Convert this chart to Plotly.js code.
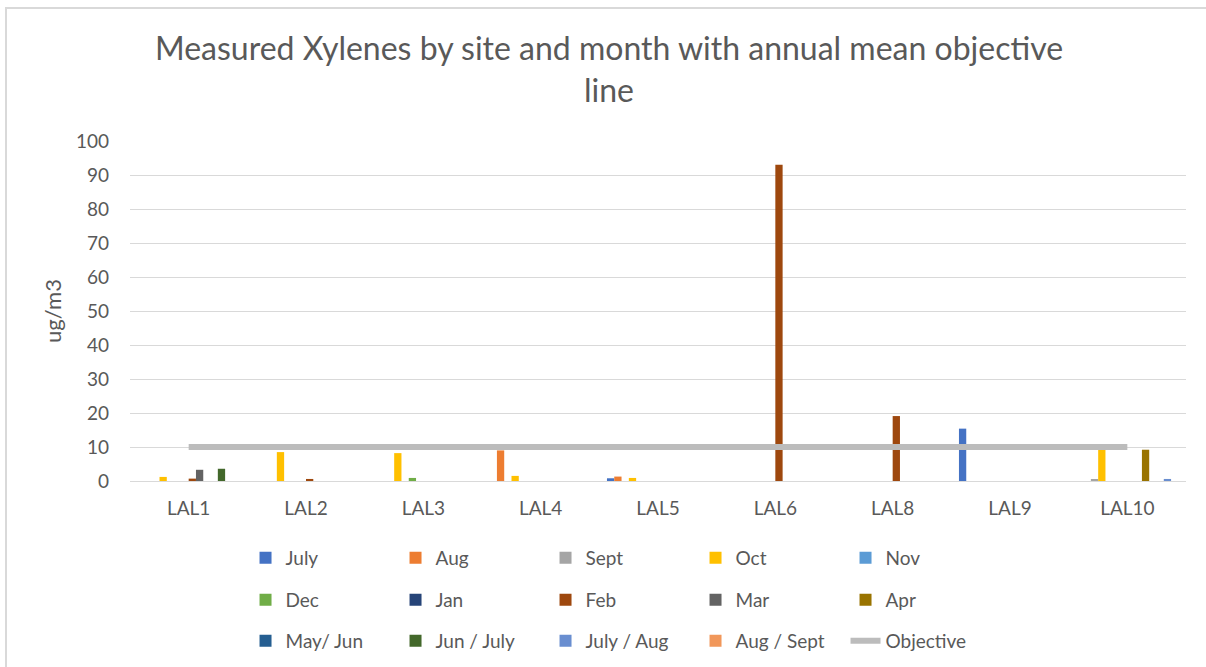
<!DOCTYPE html>
<html>
<head>
<meta charset="utf-8">
<script src="https://cdn.plot.ly/plotly-3.0.1.min.js"></script>
<style>
html,body{margin:0;padding:0;background:#fff;}
#frame{position:absolute;left:5px;top:7px;width:1201px;height:660px;border-top:2px solid #d9d9d9;border-left:2px solid #d9d9d9;box-sizing:border-box;pointer-events:none;z-index:10;}
#chart{width:1206px;height:667px;}
</style>
</head>
<body>
<div id="frame"></div>
<div id="chart"></div>
<script>
const categories = ['LAL1','LAL2','LAL3','LAL4','LAL5','LAL6','LAL8','LAL9','LAL10'];
const july     = [0,   0,   0,   0,   0.8, 0,  0,    15.4, 0];
const aug      = [0,   0,   0,   9.0, 1.3, 0,  0,    0,    0];
const sept     = [0,   0,   0,   0,   0,   0,  0,    0,    0.5];
const oct      = [1.2, 8.5, 8.2, 1.5, 0.9, 0,  0,    0,    9.4];
const nov      = [0,   0,   0,   0,   0,   0,  0,    0,    0];
const dec      = [0,   0,   0.9, 0,   0,   0,  0,    0,    0];
const jan      = [0,   0,   0,   0,   0,   0,  0,    0,    0];
const feb      = [0.7, 0.6, 0,   0,   0,   93, 19.1, 0,    0];
const mar      = [3.3, 0,   0,   0,   0,   0,  0,    0,    0];
const apr      = [0,   0,   0,   0,   0,   0,  0,    0,    9.2];
const mayJun   = [0,   0,   0,   0,   0,   0,  0,    0,    0];
const junJuly  = [3.6, 0,   0,   0,   0,   0,  0,    0,    0];
const julyAug  = [0,   0,   0,   0,   0,   0,  0,    0,    0.6];
const augSept  = [0,   0,   0,   0,   0,   0,  0,    0,    0];
const objective = [10, 10, 10, 10, 10, 10, 10, 10, 10];

const seriesNames = ['July','Aug','Sept','Oct','Nov','Dec','Jan','Feb','Mar','Apr','May/ Jun','Jun / July','July / Aug','Aug / Sept'];
const seriesValues = [july,aug,sept,oct,nov,dec,jan,feb,mar,apr,mayJun,junJuly,julyAug,augSept];
const seriesColors = ['#4472C4','#ED7D31','#A5A5A5','#FFC000','#5B9BD5','#70AD47','#264478','#9E480E','#636363','#997300','#255E91','#43682B','#698ED0','#F1975A'];
const legendIds = ['legend','legend','legend','legend','legend','legend2','legend2','legend2','legend2','legend2','legend3','legend3','legend3','legend3'];

const traces = seriesNames.map((n,i)=>({
  type:'bar', name:n, x:categories, y:seriesValues[i],
  marker:{color:seriesColors[i], line:{width:0}},
  legend:legendIds[i], hoverinfo:'x+y+name'
}));
traces.push({
  type:'scatter', mode:'lines', name:'Objective', x:categories, y:objective,
  line:{color:'#BCBCBC', width:6}, legend:'legend3'
});

const font = {family:'Lato, "Open Sans", sans-serif', color:'#595959'};
const legBase = (y)=>({
  orientation:'h', x:0.1094, xanchor:'left', y:y, yanchor:'middle', yref:'container',
  entrywidth:105, entrywidthmode:'pixels', itemwidth:30,
  font:{family:font.family, color:'#595959', size:19},
  bgcolor:'rgba(0,0,0,0)', traceorder:'normal'
});

const layout = {
  width:1206, height:667,
  margin:{l:130, r:20, t:141, b:186},
  paper_bgcolor:'#fff', plot_bgcolor:'#fff',
  font:font,
  title:{text:'Measured Xylenes by site and month with annual mean objective<br>line',
    x:0.505, xref:'container', xanchor:'center', y:0.91, yref:'container', yanchor:'top',
    font:{family:font.family, size:32, color:'#595959'}},
  barmode:'group', bargap:0.13, bargroupgap:0,
  xaxis:{type:'category', showgrid:false, showline:false, zeroline:false, ticks:'',
    tickfont:{size:19, color:'#595959'}, ticklabelstandoff:14},
  yaxis:{range:[0,100], dtick:10, tick0:0, showgrid:true, gridcolor:'#d9d9d9', gridwidth:1,
    zeroline:true, zerolinecolor:'#d9d9d9', zerolinewidth:1, showline:false, ticks:'',
    tickfont:{size:19, color:'#595959'}, ticklabelstandoff:20,
    title:{text:'ug/m3', font:{size:22, color:'#595959'}, standoff:8}},
  legend:legBase(1-558/667),
  legend2:legBase(1-600/667),
  legend3:legBase(1-641/667),
  showlegend:true
};

Plotly.newPlot('chart', traces, layout, {displayModeBar:false});
</script>
</body>
</html>
